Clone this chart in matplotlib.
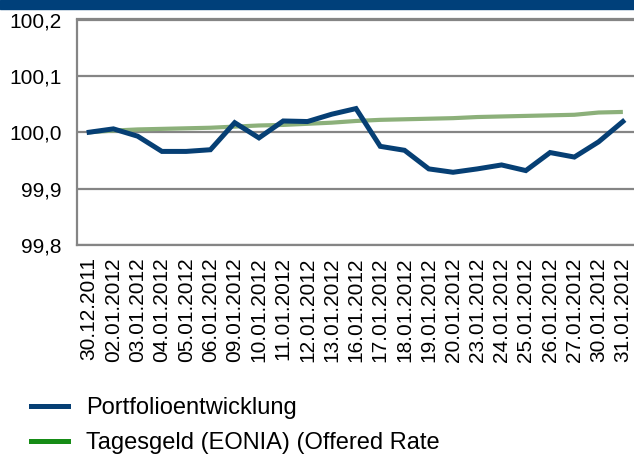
import matplotlib
matplotlib.use("Agg")
import matplotlib.pyplot as plt
from matplotlib.lines import Line2D
from matplotlib.transforms import Bbox, TransformedBbox
import numpy as np

plt.rcParams['font.family'] = ['Liberation Sans', 'DejaVu Sans']

# Data
dates = ["30.12.2011", "02.01.2012", "03.01.2012", "04.01.2012", "05.01.2012",
         "06.01.2012", "09.01.2012", "10.01.2012", "11.01.2012", "12.01.2012",
         "13.01.2012", "16.01.2012", "17.01.2012", "18.01.2012", "19.01.2012",
         "20.01.2012", "23.01.2012", "24.01.2012", "25.01.2012", "26.01.2012",
         "27.01.2012", "30.01.2012", "31.01.2012"]
portfolio = [100.000, 100.006, 99.993, 99.966, 99.966, 99.969, 100.017, 99.990,
             100.020, 100.019, 100.032, 100.042, 99.975, 99.968, 99.935, 99.929,
             99.935, 99.942, 99.932, 99.964, 99.956, 99.983, 100.019]
tagesgeld = [100.000, 100.003, 100.005, 100.006, 100.007, 100.008, 100.010, 100.012,
             100.013, 100.015, 100.017, 100.020, 100.022, 100.023, 100.024, 100.025,
             100.027, 100.028, 100.029, 100.030, 100.031, 100.035, 100.036]
yticks = [99.8, 99.9, 100.0, 100.1, 100.2]
legend_labels = ["Portfolioentwicklung", "Tagesgeld (EONIA) (Offered Rate"]

blue = '#063f74'
sage = '#8cb07a'
legend_green = '#168c16'
grid_gray = '#858585'

fig = plt.figure(figsize=(6.34, 4.58), dpi=100)

# header band
fig.patches.append(plt.Rectangle((0, 1 - 9 / 458), 1, 9 / 458, transform=fig.transFigure,
                                 color='#00407a', zorder=0))

ax = fig.add_axes([77 / 634, 1 - 245 / 458, 558 / 634, (245 - 19.5) / 458])
x = np.arange(len(dates))
ax.plot(x, tagesgeld, color=sage, lw=3.0, solid_capstyle='butt', zorder=3)
ax.plot(x, portfolio, color=blue, lw=3.6, solid_joinstyle='miter', zorder=4)

ax.set_xlim(-0.5, len(dates) - 0.5)
ax.set_ylim(99.8, 100.2)
ax.set_yticks(yticks)
ax.set_yticklabels([f"{v:.1f}".replace('.', ',') for v in yticks])
ax.set_xticks(x)
ax.set_xticklabels(dates, rotation=90)
ax.tick_params(axis='both', length=0, labelsize=15, colors='black')
ax.tick_params(axis='y', pad=11)
ax.tick_params(axis='x', pad=9)
ax.grid(axis='y', color=grid_gray, lw=1.6, zorder=1)
ax.set_axisbelow(True)
for side in ['left', 'top', 'bottom']:
    ax.spines[side].set_color(grid_gray)
    ax.spines[side].set_linewidth(1.6)
ax.spines['right'].set_visible(False)

handles = [Line2D([], [], color=blue, lw=3.6), Line2D([], [], color=legend_green, lw=3.6)]
leg = fig.legend(handles, legend_labels, loc='upper left', bbox_to_anchor=(22 / 634, 1 - 388 / 458),
                 frameon=False, fontsize=17, handlelength=1.55, handletextpad=0.75,
                 labelspacing=0.55, borderaxespad=0)
clip = TransformedBbox(Bbox([[0, 0], [443 / 634, 1]]), fig.transFigure)
for t in leg.get_texts():
    t.set_clip_box(clip)
    t.set_clip_on(True)

fig.savefig("out.png", dpi=100)
